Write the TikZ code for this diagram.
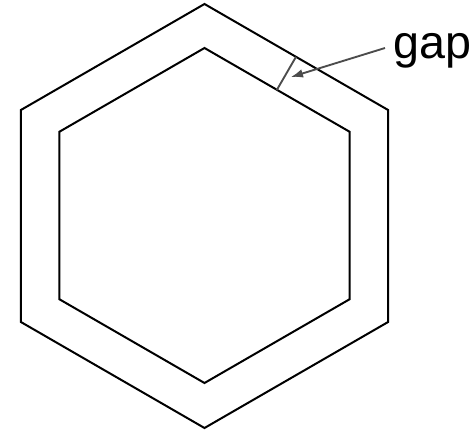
\documentclass[tikz,border=0pt]{standalone}
\usepackage{fontspec}
\setmainfont{Liberation Sans}
\usetikzlibrary{arrows.meta}
\begin{document}
\begin{tikzpicture}[x=0.75pt,y=-0.75pt,
  hexline/.style={draw=black,line width=1.5pt,line join=miter},
  gapline/.style={draw=black!70,line width=1.4pt},
  gaparrow/.style={draw=black!70,line width=1.4pt,-{Latex[length=9pt,width=6.5pt]}},
  label/.style={inner sep=0pt,font=\fontsize{35}{40}\selectfont}]
\useasboundingbox (0,0) rectangle (476,432);
% outer hexagon
\coordinate (o1) at (204.5,4);
\coordinate (o2) at (388.1,110);
\coordinate (o3) at (388.1,322);
\coordinate (o4) at (204.5,428);
\coordinate (o5) at (20.9,322);
\coordinate (o6) at (20.9,110);
\draw[hexline] (o1) -- (o2) -- (o3) -- (o4) -- (o5) -- (o6) -- cycle;
% inner hexagon
\coordinate (i1) at (204.5,48);
\coordinate (i2) at (349.6,131.75);
\coordinate (i3) at (349.6,299.25);
\coordinate (i4) at (204.5,383);
\coordinate (i5) at (59.4,299.25);
\coordinate (i6) at (59.4,131.75);
\draw[hexline] (i1) -- (i2) -- (i3) -- (i4) -- (i5) -- (i6) -- cycle;
% gap marker
\coordinate (ga) at (296,56.8);
\coordinate (gb) at (276.75,90.1);
\draw[gapline] (ga) -- (gb);
\node[label,anchor=base west] (gap) at (393,58) {gap};
\coordinate (astart) at (385,48);
\coordinate (atip) at (291,77);
\draw[gaparrow] (astart) -- (atip);
\end{tikzpicture}
\end{document}
